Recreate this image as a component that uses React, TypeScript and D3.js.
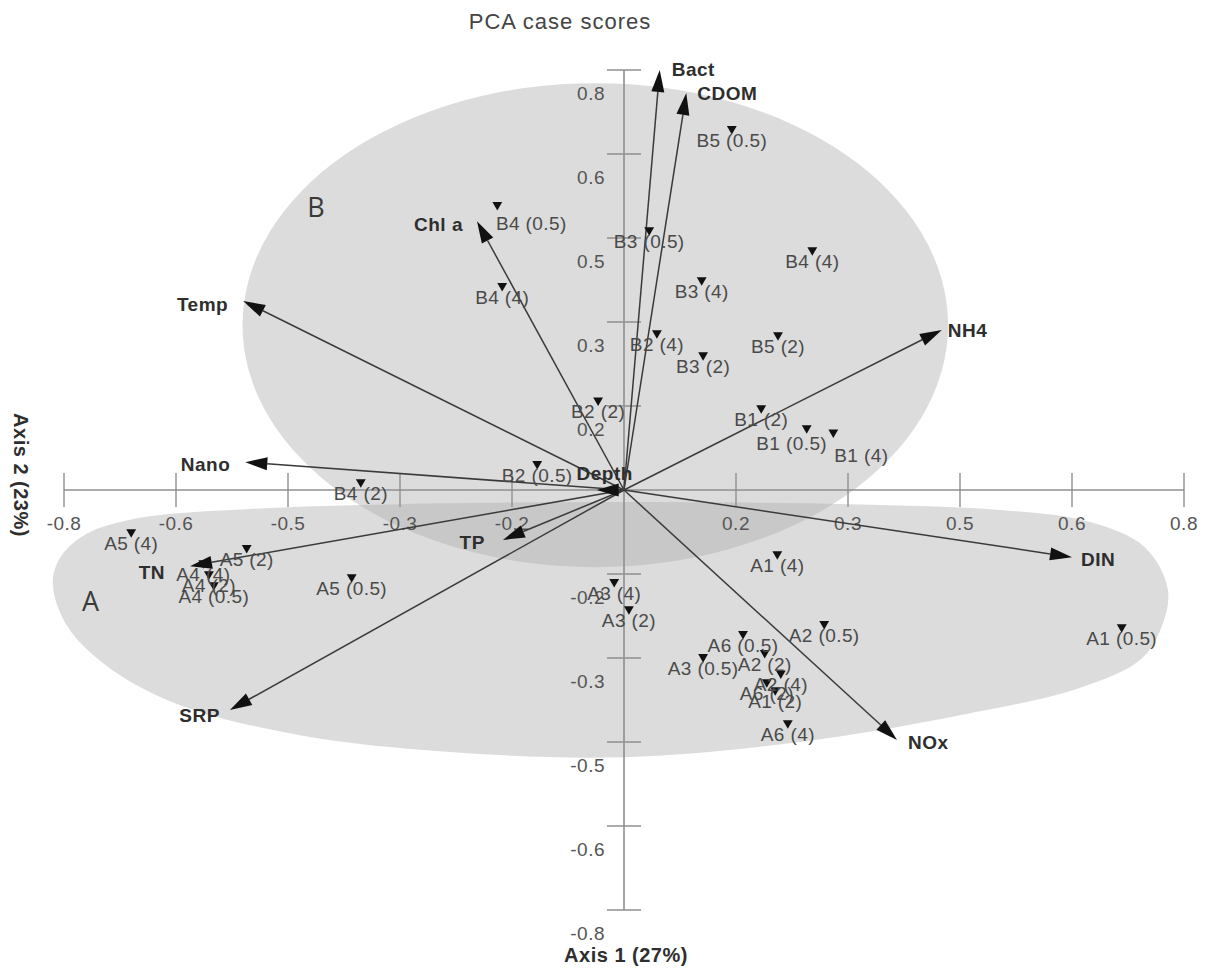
import React, { useEffect, useRef } from 'react';
import * as d3 from 'd3';

// axis ticks (labels are the rounded values printed on the figure)
const tickValues = [-0.8, -0.64, -0.48, -0.32, -0.16, 0.16, 0.32, 0.48, 0.64, 0.8];
const tickLabels = ['-0.8', '-0.6', '-0.5', '-0.3', '-0.2', '0.2', '0.3', '0.5', '0.6', '0.8'];

// variable loadings (biplot vectors)
const variables = ['Bact', 'CDOM', 'Chl a', 'Temp', 'Nano', 'NH4', 'DIN', 'NOx', 'SRP', 'TP', 'TN', 'Depth'];
const loadAxis1 = [0.051, 0.089, -0.21, -0.544, -0.541, 0.454, 0.64, 0.39, -0.563, -0.173, -0.62, -0.039];
const loadAxis2 = [0.8, 0.756, 0.512, 0.36, 0.053, 0.305, -0.128, -0.476, -0.419, -0.095, -0.145, 0];

// case scores
const sites = [
    'B5 (0.5)', 'B4 (0.5)', 'B3 (0.5)', 'B4 (4)', 'B4 (4)', 'B3 (4)', 'B2 (4)', 'B5 (2)', 'B3 (2)',
    'B2 (2)', 'B1 (2)', 'B1 (0.5)', 'B1 (4)', 'B2 (0.5)', 'B4 (2)',
    'A5 (4)', 'A5 (2)', 'A5 (0.5)', 'A4 (4)', 'A4 (2)', 'A4 (0.5)', 'A3 (4)', 'A3 (2)', 'A1 (4)',
    'A2 (0.5)', 'A6 (0.5)', 'A2 (2)', 'A3 (0.5)', 'A2 (4)', 'A6 (2)', 'A1 (2)', 'A6 (4)', 'A1 (0.5)'
];
const scoreAxis1 = [
    0.154, -0.181, 0.036, 0.269, -0.174, 0.111, 0.047, 0.22, 0.113,
    -0.037, 0.196, 0.261, 0.299, -0.124, -0.376,
    -0.704, -0.539, -0.389, -0.601, -0.593, -0.586, -0.014, 0.007, 0.219,
    0.286, 0.17, 0.201, 0.113, 0.224, 0.204, 0.216, 0.234, 0.711
];
const scoreAxis2 = [
    0.688, 0.543, 0.495, 0.457, 0.389, 0.4, 0.299, 0.295, 0.257,
    0.171, 0.156, 0.118, 0.11, 0.05, 0.015,
    -0.08, -0.11, -0.166, -0.139, -0.16, -0.181, -0.175, -0.227, -0.122,
    -0.255, -0.274, -0.31, -0.318, -0.349, -0.366, -0.381, -0.444, -0.261
];

// group B envelope (ellipse)
const groupBCenter = [-0.041, 0.314];
const groupBRadii = [0.504, 0.461];

// group A envelope outline
const groupAX = [-0.816, -0.806, -0.77, -0.691, -0.534, -0.32, 0, 0.323, 0.537, 0.666, 0.744, 0.777,
    0.766, 0.737, 0.651, 0.48, 0.251, 0, -0.249, -0.463, -0.634, -0.734, -0.795];
const groupAY = [-0.18, -0.13, -0.085, -0.053, -0.036, -0.027, -0.023, -0.027, -0.038, -0.061, -0.109, -0.19,
    -0.267, -0.324, -0.377, -0.429, -0.48, -0.509, -0.499, -0.467, -0.41, -0.34, -0.26];

const groupNames = ['A', 'B'];
const groupLabelX = [-0.762, -0.44];
const groupLabelY = [-0.23, 0.52];

// label placement relative to arrow tips (px)
const vectorLabelPos = {
    'Bact': [12, -1, 'start'], 'CDOM': [11, 0, 'start'], 'Chl a': [-14, 3, 'end'],
    'Temp': [-15, 3, 'end'], 'Nano': [-15, 2, 'end'], 'NH4': [6, 0, 'start'],
    'DIN': [9, 2, 'start'], 'NOx': [11, 2, 'start'], 'SRP': [-10, 5, 'end'],
    'TP': [-18, 2, 'end'], 'TN': [-25, 6, 'end'], 'Depth': [8, -17, 'middle']
};
// hand-moved site labels (px, relative to default)
const siteLabelShift = { 1: [34, 7], 11: [-15, 4], 12: [28, 12] };

const PCABiplot = () => {
    const ref = useRef(null);

    useEffect(() => {
        const root = d3.select(ref.current);
        root.selectAll('*').remove();

        const width = 1205;
        const height = 974;
        const font = '"Liberation Sans", Arial, sans-serif';

        const svg = root.append('svg')
            .attr('width', width)
            .attr('height', height)
            .style('display', 'block')
            .style('position', 'absolute')
            .style('left', 0)
            .style('top', 0)
            .style('font-family', font);

        const x = d3.scaleLinear().domain([-0.8, 0.8]).range([64, 1184]);
        const y = d3.scaleLinear().domain([-0.8, 0.8]).range([910, 70]);
        const ox = x(0);
        const oy = y(0);

        // group envelopes
        const shadeFill = '#aeaeae';
        const shadeOpacity = 0.43;
        const outline = d3.line()
            .x(d => x(d[0]))
            .y(d => y(d[1]))
            .curve(d3.curveCatmullRomClosed.alpha(0.5));
        svg.append('path')
            .attr('d', outline(groupAX.map((v, i) => [v, groupAY[i]])))
            .attr('fill', shadeFill)
            .attr('fill-opacity', shadeOpacity);
        svg.append('ellipse')
            .attr('cx', x(groupBCenter[0]))
            .attr('cy', y(groupBCenter[1]))
            .attr('rx', x(groupBRadii[0]) - x(0))
            .attr('ry', y(0) - y(groupBRadii[1]))
            .attr('fill', shadeFill)
            .attr('fill-opacity', shadeOpacity);

        svg.selectAll('.group-label')
            .data(groupNames)
            .enter()
            .append('text')
            .attr('x', (d, i) => x(groupLabelX[i]))
            .attr('y', (d, i) => y(groupLabelY[i]))
            .attr('text-anchor', 'middle')
            .attr('font-size', 27)
            .attr('font-family', '"Open Sans", sans-serif')
            .attr('fill', '#3a3a3a')
            .text(d => d);

        // axes through the origin
        const axisColor = '#8f8f8f';
        svg.append('line')
            .attr('x1', x(-0.8)).attr('x2', x(0.8))
            .attr('y1', oy).attr('y2', oy)
            .attr('stroke', axisColor).attr('stroke-width', 1.6);
        svg.append('line')
            .attr('x1', ox).attr('x2', ox)
            .attr('y1', y(0.8)).attr('y2', y(-0.8))
            .attr('stroke', axisColor).attr('stroke-width', 1.6);

        svg.selectAll('.xtick')
            .data(tickValues)
            .enter()
            .append('line')
            .attr('x1', d => x(d)).attr('x2', d => x(d))
            .attr('y1', oy - 17).attr('y2', oy + 17)
            .attr('stroke', axisColor).attr('stroke-width', 1.4);
        svg.selectAll('.ytick')
            .data(tickValues)
            .enter()
            .append('line')
            .attr('y1', d => y(d)).attr('y2', d => y(d))
            .attr('x1', ox - 17).attr('x2', ox + 17)
            .attr('stroke', axisColor).attr('stroke-width', 1.4);

        svg.selectAll('.xlabel')
            .data(tickValues)
            .enter()
            .append('text')
            .attr('x', d => x(d))
            .attr('y', oy + 40)
            .attr('text-anchor', 'middle')
            .attr('font-size', 19)
            .attr('letter-spacing', 0.5)
            .attr('fill', '#555')
            .text((d, i) => tickLabels[i]);
        svg.selectAll('.ylabel')
            .data(tickValues)
            .enter()
            .append('text')
            .attr('x', ox - 19)
            .attr('y', d => y(d) + 30)
            .attr('text-anchor', 'end')
            .attr('font-size', 19)
            .attr('letter-spacing', 0.5)
            .attr('fill', '#555')
            .text((d, i) => tickLabels[i]);

        // vectors
        const vectors = variables.map((name, i) => ({ name, tx: x(loadAxis1[i]), ty: y(loadAxis2[i]) }));
        const headLen = 22;
        const headHalf = 6.5;
        vectors.forEach(v => {
            const len = Math.hypot(v.tx - ox, v.ty - oy);
            const ux = (v.tx - ox) / len;
            const uy = (v.ty - oy) / len;
            const bx = v.tx - ux * headLen;
            const by = v.ty - uy * headLen;
            svg.append('line')
                .attr('x1', ox).attr('y1', oy)
                .attr('x2', bx).attr('y2', by)
                .attr('stroke', '#3a3a3a')
                .attr('stroke-width', 1.5);
            svg.append('polygon')
                .attr('points', [
                    [v.tx, v.ty],
                    [bx - uy * headHalf, by + ux * headHalf],
                    [bx + uy * headHalf, by - ux * headHalf]
                ].map(p => p.join(',')).join(' '))
                .attr('fill', '#111');
        });

        // site markers and labels
        const scores = sites.map((name, i) => ({ name, i, px: x(scoreAxis1[i]), py: y(scoreAxis2[i]) }));
        svg.selectAll('.site')
            .data(scores)
            .enter()
            .append('path')
            .attr('d', d3.symbol().type(d3.symbolTriangle).size(42)())
            .attr('transform', d => `translate(${d.px},${d.py}) rotate(180)`)
            .attr('fill', '#111');
        svg.selectAll('.site-label')
            .data(scores)
            .enter()
            .append('text')
            .attr('x', d => d.px + (siteLabelShift[d.i] ? siteLabelShift[d.i][0] : 0))
            .attr('y', d => d.py + 18 + (siteLabelShift[d.i] ? siteLabelShift[d.i][1] : 0))
            .attr('text-anchor', 'middle')
            .attr('font-size', 19)
            .attr('letter-spacing', 0.4)
            .attr('fill', '#4a4a4a')
            .text(d => d.name);

        svg.selectAll('.vector-label')
            .data(vectors)
            .enter()
            .append('text')
            .attr('x', d => d.tx + vectorLabelPos[d.name][0])
            .attr('y', d => d.ty + vectorLabelPos[d.name][1] + 7)
            .attr('text-anchor', d => vectorLabelPos[d.name][2])
            .attr('font-size', 19)
            .attr('font-weight', 'bold')
            .attr('letter-spacing', 0.5)
            .attr('fill', '#2e2e2e')
            .text(d => d.name);

        // titles
        svg.append('text')
            .attr('x', 560).attr('y', 29)
            .attr('text-anchor', 'middle')
            .attr('font-size', 22)
            .attr('letter-spacing', 1)
            .attr('fill', '#444')
            .text('PCA case scores');
        svg.append('text')
            .attr('x', 626).attr('y', 962)
            .attr('text-anchor', 'middle')
            .attr('font-size', 20)
            .attr('font-weight', 'bold')
            .attr('letter-spacing', 0.5)
            .attr('fill', '#2e2e2e')
            .text('Axis 1 (27%)');
        svg.append('text')
            .attr('transform', 'translate(14,475) rotate(90)')
            .attr('text-anchor', 'middle')
            .attr('font-size', 20)
            .attr('font-weight', 'bold')
            .attr('letter-spacing', 0.5)
            .attr('fill', '#2e2e2e')
            .text('Axis 2 (23%)');
    }, []);

    return <div ref={ref} style={{ width: 1205, height: 974 }}></div>;
};

export default function App() {
    return <PCABiplot />;
}
